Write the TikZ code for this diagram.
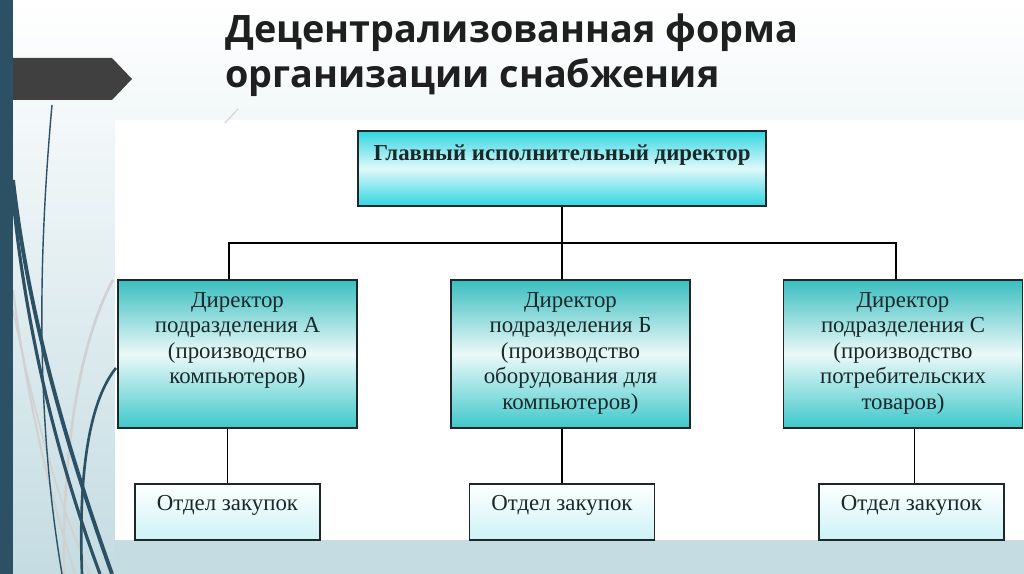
\documentclass[tikz,border=0pt]{standalone}
\usepackage{fontspec}
\setmainfont{Liberation Serif}
\newfontfamily\titlefont{Open Sans}
\usetikzlibrary{calc}

\definecolor{slidebar}{RGB}{44,80,100}
\definecolor{banner}{RGB}{64,64,64}
\definecolor{bgblue}{RGB}{196,220,226}
\definecolor{aqua}{RGB}{48,214,224}
\definecolor{tealtop}{RGB}{58,190,192}
\definecolor{tealbot}{RGB}{62,200,202}
\definecolor{paleaqua}{RGB}{204,242,246}
\definecolor{boxline}{RGB}{30,40,40}
\definecolor{boxtext}{RGB}{25,40,40}

\tikzset{
  chiefbox/.style={draw=boxline, line width=1pt, top color=aqua, bottom color=aqua,
    middle color={white!85!aqua}, minimum width=8.16cm, minimum height=1.5cm, inner sep=0pt},
  divbox/.style={draw=boxline, line width=1pt, top color=tealtop, bottom color=tealbot,
    middle color={white!90!tealtop}, minimum width=4.78cm, minimum height=2.96cm, inner sep=0pt},
  buybox/.style={draw=boxline, line width=1pt, top color=white, bottom color=paleaqua,
    minimum width=3.7cm, minimum height=1.12cm, inner sep=0pt},
  boxtxt/.style={text=boxtext, font=\fontsize{13}{14.5}\selectfont, align=center, inner sep=0pt},
  link/.style={draw=black, line width=0.8pt},
  swirl/.style={line width=#1, slidebar},
  greyswirl/.style={line width=#1, black!18}
}

\begin{document}
\begin{tikzpicture}[x=0.02cm, y=-0.02cm]
  \useasboundingbox (0,0) rectangle (1024,574);

  % slide background
  \shade[top color=white, bottom color=bgblue] (0,0) rectangle (1024,574);
  \fill[white] (115,120) rectangle (1024,540);
  \fill[bgblue] (115,540) rectangle (1024,574);

  % decorative curves on the left
  \draw[greyswirl=1.5pt] (113,280) .. controls (80,340) and (62,450) .. (64,574);
  \draw[greyswirl=1.2pt] (13,290) .. controls (30,420) and (55,510) .. (75,574);
  \draw[greyswirl=1pt] (13,310) .. controls (40,440) and (65,520) .. (90,574);
  \draw[swirl=0.8pt] (52,105) .. controls (38,260) and (36,420) .. (62,574);
  \draw[swirl=2.2pt] (13,180) .. controls (30,330) and (75,470) .. (112,574);
  \draw[swirl=1.8pt] (13,198) .. controls (28,350) and (65,480) .. (100,574);
  \draw[swirl=1.5pt] (116,368) .. controls (90,400) and (78,470) .. (82,574);
  \draw[black!15, line width=0.8pt] (225,123) -- (238,109);

  % left bar and banner
  \fill[slidebar] (0,0) rectangle (13,574);
  \fill[banner] (13,58) -- (112,58) -- (132,79) -- (112,100) -- (13,100) -- cycle;

  % title
  \node[anchor=north west, align=left, text=black!88, inner sep=0pt,
        font=\titlefont\bfseries\fontsize{21.5}{26}\selectfont] (title) at (225,13)
    {Децентрализованная форма\\организации снабжения};

  % boxes
  \node[chiefbox] (chief) at (562,168.5) {};
  \node[boxtxt, anchor=north, font=\bfseries\fontsize{13}{14.5}\selectfont] (chieftxt)
    at ([yshift=-0.28cm]chief.north) {Главный исполнительный директор};

  \node[divbox] (dirA) at (237.5,354) {};
  \node[divbox] (dirB) at (570.5,354) {};
  \node[divbox] (dirC) at (903,354) {};
  \node[boxtxt, anchor=north] (txtA) at ([yshift=-0.26cm]dirA.north)
    {Директор\\подразделения А\\(производство\\компьютеров)};
  \node[boxtxt, anchor=north] (txtB) at ([yshift=-0.26cm]dirB.north)
    {Директор\\подразделения Б\\(производство\\оборудования для\\компьютеров)};
  \node[boxtxt, anchor=north] (txtC) at ([yshift=-0.26cm]dirC.north)
    {Директор\\подразделения С\\(производство\\потребительских\\товаров)};

  \node[buybox] (buyA) at (227.5,512) {};
  \node[buybox] (buyB) at (562,512) {};
  \node[buybox] (buyC) at (911.5,512) {};
  \foreach \b in {buyA,buyB,buyC}
    \node[boxtxt, anchor=north] (\b txt) at ([yshift=-0.24cm]\b.north) {Отдел закупок};

  % connectors
  \coordinate (bus) at (562,243);
  \draw[link] (chief.south) -- (bus);
  \draw[link] ($(dirA.north)+(-8.5,0)$) |- (bus) -| ($(dirC.north)+(-7,0)$);
  \draw[link] (bus) -- ($(dirB.north)+(-8.5,0)$);
  \draw[link] (buyA.north) -- (buyA.north |- dirA.south);
  \draw[link] (buyB.north) -- (buyB.north |- dirB.south);
  \draw[link] ($(buyC.north)+(3,0)$) -- ($(buyC.north |- dirC.south)+(3,0)$);
\end{tikzpicture}
\end{document}
